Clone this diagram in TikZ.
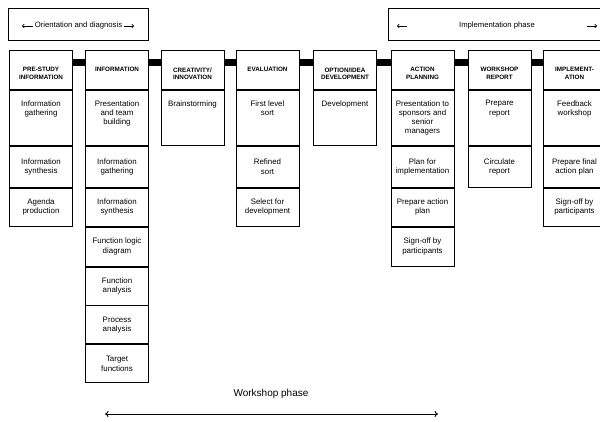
\documentclass[tikz,border=0pt]{standalone}
\usepackage{fontspec}
\setmainfont{Liberation Sans}
\usetikzlibrary{arrows.meta}

\newcommand{\headtext}[1]{\parbox[c][39pt][t]{63pt}{\centering\vspace*{17pt}#1}}
\newcommand{\toptext}[1]{\parbox[c][55pt][t]{63pt}{\centering\vspace*{10pt}#1}}

\begin{document}
\begin{tikzpicture}[x=1pt,y=-1pt,
  cellbox/.style={draw,line width=0.9pt,inner sep=0pt,anchor=north,minimum width=63pt},
  colhead/.style={cellbox,font=\bfseries\fontsize{6.3}{7.8}\selectfont},
  cell/.style={cellbox,align=center,font=\fontsize{7.9}{9.3}\selectfont},
  link/.style={line width=7pt},
  phase/.style={draw,line width=0.9pt,minimum height=32pt,inner sep=0pt,anchor=north west},
  phasetext/.style={font=\fontsize{7.7}{9}\selectfont,inner sep=1.5pt},
  phasetip/.style={line width=0.7pt,-{To[length=2.5pt,width=4pt]}}]
\useasboundingbox (0,0) rectangle (600,421);

% phases at the top
\node[phase,minimum width=140pt] (orientbox) at (8,8) {};
\node[phasetext] (orient) at (78.5,26) {Orientation and diagnosis};
\coordinate (orientL) at (22,26);
\coordinate (orientR) at (134,26);
\path[draw,phasetip] (orient.west) -- (orientL);
\path[draw,phasetip] (orient.east) -- (orientR);

\node[phase,minimum width=218pt] (implbox) at (388,8) {};
\node[phasetext] (impl) at (497,26) {Implementation phase};
\coordinate (implA) at (407,26);
\coordinate (implB) at (397,26);
\coordinate (implC) at (587,26);
\coordinate (implD) at (597,26);
\path[draw,phasetip] (implA) -- (implB);
\path[draw,phasetip] (implC) -- (implD);

% column headers
\node[colhead] (h1) at (41,50) {\headtext{PRE-STUDY\\INFORMATION}};
\node[colhead] (h2) at (117,50) {\headtext{INFORMATION}};
\node[colhead] (h3) at (192.5,50) {\headtext{CREATIVITY/\\INNOVATION}};
\node[colhead] (h4) at (267.5,50) {\headtext{EVALUATION}};
\node[colhead] (h5) at (345,50) {\headtext{OPTION/IDEA\\DEVELOPMENT}};
\node[colhead] (h6) at (422.5,50) {\headtext{ACTION\\PLANNING}};
\node[colhead] (h7) at (499.5,50) {\headtext{WORKSHOP\\REPORT}};
\node[colhead] (h8) at (574.5,50) {\headtext{IMPLEMENT-\\ATION}};

\foreach \a/\b in {h1/h2,h2/h3,h3/h4,h4/h5,h5/h6,h6/h7,h7/h8}
  \path[draw,link] ([yshift=-12pt]\a.north east) -- ([yshift=-12pt]\b.north west);

% pre-study information
\node[cell] (c11) at (h1.south) {\toptext{Information\\gathering}};
\node[cell,minimum height=41pt] (c12) at (c11.south) {Information\\synthesis};
\node[cell,minimum height=38pt] (c13) at (c12.south) {Agenda\\production};

% information
\node[cell] (c21) at (h2.south) {\toptext{Presentation\\and team\\building}};
\node[cell,minimum height=41pt] (c22) at (c21.south) {Information\\gathering};
\node[cell,minimum height=38pt] (c23) at (c22.south) {Information\\synthesis};
\node[cell,minimum height=39pt] (c24) at (c23.south) {Function logic\\diagram};
\node[cell,minimum height=38pt] (c25) at (c24.south) {Function\\analysis};
\node[cell,minimum height=38pt] (c26) at (c25.south) {Process\\analysis};
\node[cell,minimum height=38pt] (c27) at (c26.south) {Target\\functions};

% creativity
\node[cell] (c31) at (h3.south) {\toptext{Brainstorming}};

% evaluation
\node[cell] (c41) at (h4.south) {\toptext{First level\\sort}};
\node[cell,minimum height=41pt] (c42) at (c41.south) {Refined\\sort};
\node[cell,minimum height=38pt] (c43) at (c42.south) {Select for\\development};

% option/idea development
\node[cell] (c51) at (h5.south) {\toptext{Development}};

% action planning
\node[cell] (c61) at (h6.south) {\toptext{Presentation to\\sponsors and\\senior\\managers}};
\node[cell,minimum height=41pt] (c62) at (c61.south) {Plan for\\implementation};
\node[cell,minimum height=38pt] (c63) at (c62.south) {Prepare action\\plan};
\node[cell,minimum height=39pt] (c64) at (c63.south) {Sign-off by\\participants};

% workshop report
\node[cell] (c71) at (h7.south) {\toptext{Prepare\\report}};
\node[cell,minimum height=41pt] (c72) at (c71.south) {Circulate\\report};

% implementation
\node[cell] (c81) at (h8.south) {\toptext{Feedback\\workshop}};
\node[cell,minimum height=41pt] (c82) at (c81.south) {Prepare final\\action plan};
\node[cell,minimum height=38pt] (c83) at (c82.south) {Sign-off by\\participants};

% workshop phase
\node[font=\fontsize{10}{12}\selectfont] (wsphase) at (271,394) {Workshop phase};
\coordinate (wsL) at (105,414);
\coordinate (wsR) at (438,414);
\path[draw,line width=0.9pt,{To[length=3.5pt,width=6pt]}-{To[length=3.5pt,width=6pt]}] (wsL) -- (wsR);
\end{tikzpicture}
\end{document}
